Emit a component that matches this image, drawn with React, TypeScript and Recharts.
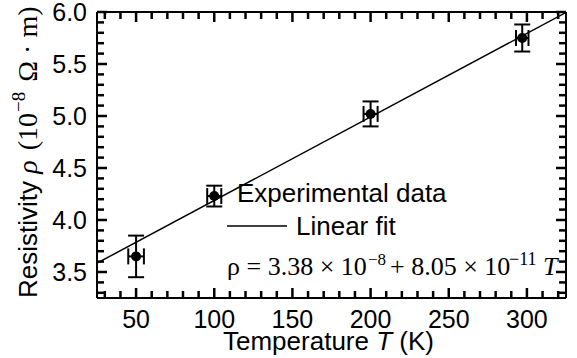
import React from 'react';
import { ComposedChart, XAxis, YAxis, Scatter, Line, ErrorBar } from 'recharts';

// measured points
const temperature = [50, 100, 200, 297];
const resistivity = [3.65, 4.23, 5.02, 5.75];
const resistivityErr = [0.2, 0.1, 0.12, 0.13];
const temperatureErr = [5, 4.5, 4.5, 4];

// linear fit end points
const fitTemperature = [25, 325];
const fitResistivity = [3.585, 5.995];

const xMajorTicks = [50, 100, 150, 200, 250, 300];
const yMajorTicks = [3.5, 4.0, 4.5, 5.0, 5.5, 6.0];

// minor ticks every 10 K and every 0.1
const xTicks = Array.from({ length: 30 }, (_, i) => 30 + i * 10);
const yTicks = Array.from({ length: 28 }, (_, i) => (33 + i) / 10);

const points = temperature.map((t, i) => ({
  T: t,
  rho: resistivity[i],
  rhoErr: resistivityErr[i],
  tErr: temperatureErr[i],
}));
const fitData = fitTemperature.map((t, i) => ({ T: t, rho: fitResistivity[i] }));

const SANS = '"Liberation Sans", Arial, Helvetica, sans-serif';
const SERIF = '"Liberation Serif", "Times New Roman", serif';

const isMajorX = (v: number) => xMajorTicks.includes(v);
const isMajorY = (v: number) => yMajorTicks.some((m) => Math.abs(m - v) < 1e-6);

// inward tick marks, longer on labelled values
const tickLen = (major: boolean) => (major ? 10 : 7);
const TICK_W = 2.5;

const BottomTick = (props: any) => {
  const x = Number(props.x);
  const y = Number(props.y);
  const major = isMajorX(props.payload.value);
  return (
    <g>
      <line x1={x} x2={x} y1={y} y2={y - tickLen(major)} stroke="#000" strokeWidth={TICK_W} />
      {major && (
        <text x={x} y={y + 30} textAnchor="middle" fontFamily={SANS} fontSize={25} fill="#000">
          {props.payload.value}
        </text>
      )}
    </g>
  );
};

const TopTick = (props: any) => {
  const x = Number(props.x);
  const y = Number(props.y);
  const major = isMajorX(props.payload.value);
  return <line x1={x} x2={x} y1={y} y2={y + tickLen(major)} stroke="#000" strokeWidth={TICK_W} />;
};

const LeftTick = (props: any) => {
  const x = Number(props.x);
  const y = Number(props.y);
  const major = isMajorY(props.payload.value);
  return (
    <g>
      <line x1={x} x2={x + tickLen(major)} y1={y} y2={y} stroke="#000" strokeWidth={TICK_W} />
      {major && (
        <text x={x - 10} y={y + 9} textAnchor="end" fontFamily={SANS} fontSize={25} fill="#000">
          {props.payload.value.toFixed(1)}
        </text>
      )}
    </g>
  );
};

const RightTick = (props: any) => {
  const x = Number(props.x);
  const y = Number(props.y);
  const major = isMajorY(props.payload.value);
  return <line x1={x} x2={x - tickLen(major)} y1={y} y2={y} stroke="#000" strokeWidth={TICK_W} />;
};

const DataDot = (props: any) => <circle cx={props.cx} cy={props.cy} r={5} fill="#000" />;

const axisLine = { stroke: '#000', strokeWidth: 2 };

export default function App() {
  return (
    <div style={{ position: 'absolute', left: 0, top: 0, width: 577, height: 358, background: '#fff' }}>
      <ComposedChart width={577} height={358} margin={{ top: 11, right: 10, bottom: 0, left: 0 }}>
        <XAxis
          dataKey="T"
          type="number"
          domain={[25, 325]}
          ticks={xTicks}
          interval={0}
          height={60}
          tickSize={0}
          tickMargin={0}
          tickLine={false}
          axisLine={axisLine}
          tick={(p: any) => <BottomTick {...p} />}
          allowDataOverflow
        />
        <XAxis
          xAxisId="top"
          orientation="top"
          dataKey="T"
          type="number"
          domain={[25, 325]}
          ticks={xTicks}
          interval={0}
          height={1}
          tickSize={0}
          tickMargin={0}
          tickLine={false}
          axisLine={axisLine}
          tick={(p: any) => <TopTick {...p} />}
          allowDataOverflow
        />
        <YAxis
          type="number"
          domain={[3.25, 6.0]}
          ticks={yTicks}
          interval={0}
          width={97}
          tickSize={0}
          tickMargin={0}
          tickLine={false}
          axisLine={axisLine}
          tick={(p: any) => <LeftTick {...p} />}
          allowDataOverflow
        />
        <YAxis
          yAxisId="right"
          orientation="right"
          type="number"
          domain={[3.25, 6.0]}
          ticks={yTicks}
          interval={0}
          width={1}
          tickSize={0}
          tickMargin={0}
          tickLine={false}
          axisLine={axisLine}
          tick={(p: any) => <RightTick {...p} />}
          allowDataOverflow
        />
        <Line
          data={fitData}
          dataKey="rho"
          name="Linear fit"
          stroke="#000"
          strokeWidth={1.5}
          dot={false}
          activeDot={false}
          isAnimationActive={false}
        />
        <Scatter
          data={points}
          dataKey="rho"
          name="Experimental data"
          fill="#000"
          shape={<DataDot />}
          isAnimationActive={false}
        >
          <ErrorBar dataKey="rhoErr" direction="y" width={8} stroke="#000" strokeWidth={2} isAnimationActive={false} />
          <ErrorBar dataKey="tErr" direction="x" width={8} stroke="#000" strokeWidth={2} isAnimationActive={false} />
        </Scatter>
      </ComposedChart>

      {/* legend, fit equation and axis titles */}
      <svg
        width={577}
        height={358}
        style={{ position: 'absolute', left: 0, top: 0, pointerEvents: 'none' }}
      >
        <text x={237} y={202} fontFamily={SANS} fontSize={26} fill="#000">
          Experimental data
        </text>
        <line x1={227} x2={287} y1={226} y2={226} stroke="#000" strokeWidth={1.5} />
        <text x={296} y={235} fontFamily={SANS} fontSize={26} fill="#000">
          Linear fit
        </text>

        <text y={275} fontFamily={SERIF} fontSize={26} fill="#000">
          <tspan x={227}>ρ = 3.38 × 10</tspan>
          <tspan x={368} dy={-10} fontSize={17}>−8</tspan>
          <tspan x={390} dy={10}>+ 8.05 × 10</tspan>
          <tspan x={509} dy={-10} fontSize={18}>−11</tspan>
          <tspan x={543} dy={10} fontStyle="italic">T</tspan>
        </text>

        <text x={223} y={350} fontFamily={SANS} fontSize={26} fill="#000">
          Temperature <tspan fontStyle="italic">T</tspan> (K)
        </text>
        <text transform="translate(37,298) rotate(-90)" fontFamily={SANS} fontSize={26} fill="#000">
          Resistivity{' '}
          <tspan fontFamily={SERIF} fontStyle="italic" fontSize={28}>ρ</tspan>
          <tspan fontFamily={SERIF} fontSize={28} dx={3}> (10</tspan>
          <tspan fontFamily={SERIF} fontSize={19} dy={-12} dx={1}>−8</tspan>
          <tspan fontFamily={SERIF} fontSize={28} dy={12} dx={3}> Ω · m)</tspan>
        </text>
      </svg>
    </div>
  );
}
